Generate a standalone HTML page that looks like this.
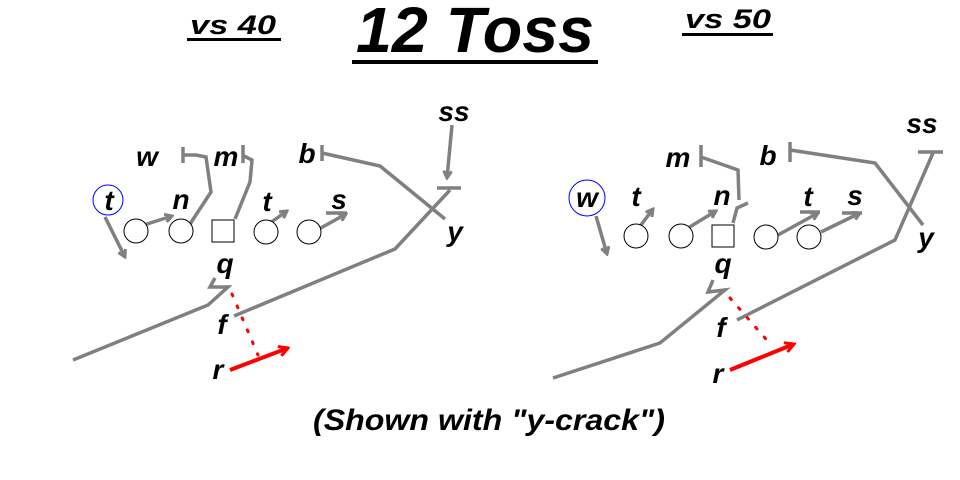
<!DOCTYPE html>
<html><head><meta charset="utf-8"><style>
html,body{margin:0;padding:0;background:#fff;}
svg{display:block;}
text{font-family:"Liberation Sans",sans-serif;font-weight:bold;font-style:italic;fill:#000;}
.g{stroke:#808080;stroke-width:3.5;fill:none;stroke-linejoin:miter;}
.p{fill:#fff;stroke:#000;stroke-width:1;}
.l{font-size:28px;text-anchor:middle;}
</style></head><body>
<svg width="960" height="480" viewBox="0 0 960 480" xmlns="http://www.w3.org/2000/svg">
<defs>
<marker id="a" markerWidth="10" markerHeight="10" refX="8" refY="5" orient="auto" markerUnits="userSpaceOnUse">
<path d="M1,1 L8,5 L1,9" fill="none" stroke="#808080" stroke-width="3"/></marker>
<marker id="ar" markerWidth="12" markerHeight="12" refX="10" refY="6" orient="auto" markerUnits="userSpaceOnUse">
<path d="M1,1 L10,6 L1,11" fill="none" stroke="#ff0000" stroke-width="3"/></marker>
</defs>
<!-- titles -->
<text x="475" y="52" font-size="64" text-anchor="middle" textLength="238" lengthAdjust="spacingAndGlyphs">12 Toss</text>
<rect x="352" y="60" width="246" height="4" fill="#000"/>
<text x="233" y="34" font-size="27" text-anchor="middle" textLength="86" lengthAdjust="spacingAndGlyphs">vs 40</text>
<rect x="187" y="38" width="94" height="3" fill="#000"/>
<text x="728" y="28" font-size="27" text-anchor="middle" textLength="86" lengthAdjust="spacingAndGlyphs">vs 50</text>
<rect x="682" y="33" width="91" height="3" fill="#000"/>
<text x="489" y="430" font-size="30" text-anchor="middle" textLength="352" lengthAdjust="spacingAndGlyphs">(Shown with "y-crack")</text>

<!-- LEFT -->
<circle cx="108" cy="200" r="15" fill="none" stroke="#0000ff" stroke-width="1"/>
<polyline class="g" points="105,217 125,257" marker-end="url(#a)"/>
<polyline class="g" points="144,225 172,216" marker-end="url(#a)"/>
<polyline class="g" points="190,224 211,192 206,157 196,155 183,155"/>
<line class="g" x1="183" y1="147" x2="183" y2="163"/>
<polyline class="g" points="235,219 250,182 252,160 244,156"/>
<line class="g" x1="243" y1="145" x2="243" y2="163"/>
<polyline class="g" points="270,223 287,211" marker-end="url(#a)"/>
<polyline class="g" points="319,229 346,214" marker-end="url(#a)"/>
<line class="g" x1="326" y1="213" x2="347" y2="213"/>
<polyline class="g" points="322,153 380,166 445,219"/>
<line class="g" x1="322" y1="145" x2="322" y2="161"/>
<polyline class="g" points="452,125 447,178" marker-end="url(#a)"/>
<polyline class="g" points="234,316 395,249 450,190"/>
<line class="g" x1="437" y1="188" x2="461" y2="188"/>
<polyline class="g" points="73,360 208,305 228,287 210,287 215,278"/>
<line x1="232" y1="294" x2="258" y2="355" stroke="#ff0000" stroke-width="3" stroke-dasharray="2,11" stroke-linecap="round"/>
<line x1="230" y1="370" x2="288" y2="348" stroke="#ff0000" stroke-width="4" marker-end="url(#ar)"/>
<circle class="p" cx="136" cy="231" r="12"/>
<circle class="p" cx="181" cy="231" r="12"/>
<rect class="p" x="212" y="220" width="22" height="22"/>
<circle class="p" cx="266" cy="232" r="12"/>
<circle class="p" cx="309" cy="232" r="12"/>
<text class="l" x="109" y="210">t</text>
<text class="l" x="147" y="166">w</text>
<text class="l" x="226" y="166">m</text>
<text class="l" x="307" y="163">b</text>
<text class="l" x="454" y="121">ss</text>
<text class="l" x="181" y="209">n</text>
<text class="l" x="267" y="211">t</text>
<text class="l" x="339" y="209">s</text>
<text class="l" x="455" y="241">y</text>
<text class="l" x="225" y="273">q</text>
<text class="l" x="222" y="334">f</text>
<text class="l" x="218" y="379">r</text>

<!-- RIGHT -->
<circle cx="587" cy="198" r="18" fill="none" stroke="#0000ff" stroke-width="1"/>
<polyline class="g" points="596,216 607,254" marker-end="url(#a)"/>
<polyline class="g" points="641,225 653,209" marker-end="url(#a)"/>
<polyline class="g" points="688,228 716,211" marker-end="url(#a)"/>
<polyline class="g" points="733,223 737,208 748,203"/>
<polyline class="g" points="701,157 738,170 739,200"/>
<line class="g" x1="701" y1="145" x2="701" y2="167"/>
<polyline class="g" points="778,235 818,213" marker-end="url(#a)"/>
<line class="g" x1="800" y1="212" x2="820" y2="212"/>
<polyline class="g" points="821,232 860,213" marker-end="url(#a)"/>
<line class="g" x1="842" y1="213" x2="862" y2="213"/>
<polyline class="g" points="790,150 875,163 923,225"/>
<line class="g" x1="790" y1="142" x2="790" y2="162"/>
<polyline class="g" points="933,153 895,240 737,320"/>
<line class="g" x1="918" y1="152" x2="943" y2="152"/>
<polyline class="g" points="553,378 660,343 725,290 708,292 713,280"/>
<line x1="730" y1="298" x2="772" y2="346" stroke="#ff0000" stroke-width="3" stroke-dasharray="2,11" stroke-linecap="round"/>
<line x1="730" y1="370" x2="794" y2="344" stroke="#ff0000" stroke-width="4" marker-end="url(#ar)"/>
<circle class="p" cx="636" cy="236" r="12"/>
<circle class="p" cx="681" cy="236" r="12"/>
<rect class="p" x="712" y="225" width="22" height="22"/>
<circle class="p" cx="766" cy="237" r="12"/>
<circle class="p" cx="809" cy="237" r="12"/>
<text class="l" x="587" y="207">w</text>
<text class="l" x="636" y="206">t</text>
<text class="l" x="678" y="167">m</text>
<text class="l" x="768" y="165">b</text>
<text class="l" x="922" y="133">ss</text>
<text class="l" x="722" y="205">n</text>
<text class="l" x="808" y="206">t</text>
<text class="l" x="855" y="205">s</text>
<text class="l" x="926" y="247">y</text>
<text class="l" x="723" y="273">q</text>
<text class="l" x="721" y="337">f</text>
<text class="l" x="718" y="383">r</text>
</svg>
</body></html>
